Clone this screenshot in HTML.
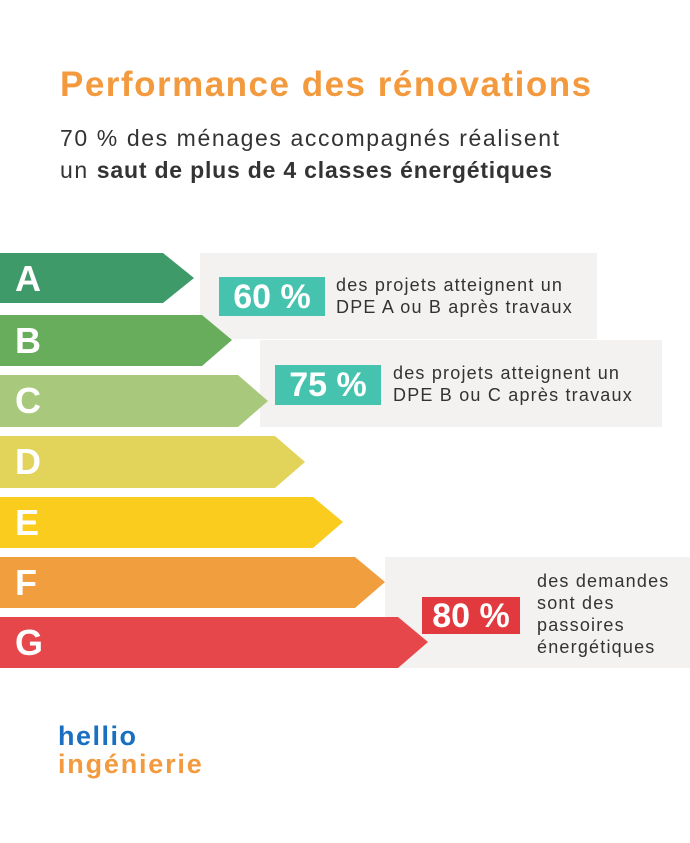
<!DOCTYPE html>
<html><head><meta charset="utf-8"><style>
body{margin:0;width:690px;height:843px;background:#fff;position:relative;overflow:hidden;font-family:"Liberation Sans",sans-serif}
.a{position:absolute}
.t{color:#333;font-size:18px;line-height:22px;letter-spacing:1.2px}
.p{color:#fff;font-weight:bold;font-size:34px;text-align:center}
.l{color:#fff;font-weight:bold;font-size:36px;left:15px}
</style></head><body>
<div class="a" style="left:60px;top:65px;font-size:35px;font-weight:bold;color:#f39a3e;letter-spacing:1.5px">Performance des rénovations</div>
<div class="a" style="left:60px;top:122px;font-size:23px;line-height:32px;color:#333;letter-spacing:1.6px">70 % des ménages accompagnés réalisent<br>un <b style="letter-spacing:0.8px">saut de plus de 4 classes énergétiques</b></div>
<div class="a" style="left:200px;top:253px;width:397px;height:86px;background:#f3f2f0"></div>
<div class="a" style="left:260px;top:340px;width:402px;height:87px;background:#f3f2f0"></div>
<div class="a" style="left:385px;top:557px;width:305px;height:111px;background:#f3f2f0"></div>
<svg class="a" style="left:0;top:0" width="690" height="843">
<polygon points="0,253 163,253 194,278 163,303 0,303" fill="#3f9a6a"/>
<polygon points="0,315 202,315 232,340 202,366 0,366" fill="#67ad5c"/>
<polygon points="0,375 238,375 268,401 238,427 0,427" fill="#a8c97c"/>
<polygon points="0,436 275,436 305,462 275,488 0,488" fill="#e2d35a"/>
<polygon points="0,497 313,497 343,522 313,548 0,548" fill="#f9cc1e"/>
<polygon points="0,557 355,557 385,582 355,608 0,608" fill="#f19e3f"/>
<polygon points="0,617 398,617 428,642 398,668 0,668" fill="#e6474a"/>
</svg>
<div class="a l" style="top:258px">A</div>
<div class="a l" style="top:320px">B</div>
<div class="a l" style="top:380px">C</div>
<div class="a l" style="top:441px">D</div>
<div class="a l" style="top:502px">E</div>
<div class="a l" style="top:562px">F</div>
<div class="a l" style="top:622px">G</div>
<div class="a p" style="left:219px;top:277px;width:106px;height:39px;line-height:40px;background:#45c3ae">60 %</div>
<div class="a t" style="left:336px;top:274px">des projets atteignent un<br>DPE A ou B après travaux</div>
<div class="a p" style="left:275px;top:365px;width:106px;height:40px;line-height:41px;background:#45c3ae">75 %</div>
<div class="a t" style="left:393px;top:362px">des projets atteignent un<br>DPE B ou C après travaux</div>
<div class="a p" style="left:422px;top:597px;width:98px;height:37px;line-height:38px;background:#e2393f">80 %</div>
<div class="a t" style="left:537px;top:570px">des demandes<br>sont des<br>passoires<br>énergétiques</div>
<div class="a" style="left:58px;top:722px;font-size:27px;font-weight:bold;color:#1a6fc0;line-height:28px;letter-spacing:1.5px">hellio</div>
<div class="a" style="left:58px;top:750px;font-size:27px;font-weight:bold;color:#f39a3e;line-height:28px;letter-spacing:1.8px">ingénierie</div>
</body></html>
